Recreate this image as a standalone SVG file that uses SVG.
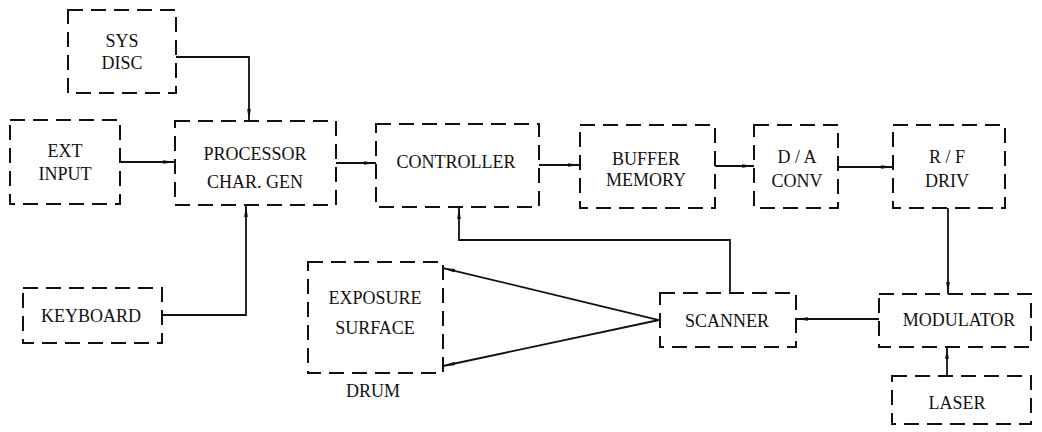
<svg xmlns="http://www.w3.org/2000/svg" width="1042" height="432" viewBox="0 0 1042 432">
<style>
.box{fill:none;stroke:#111;stroke-width:2;stroke-dasharray:15 8}
.ln{fill:none;stroke:#111;stroke-width:1.8}
text{font-family:'Liberation Serif','Times New Roman','DejaVu Serif',serif;font-size:18px;fill:#111;text-anchor:middle}
</style>
<defs>
<marker id="ah" viewBox="0 0 12 6" refX="12" refY="3" markerWidth="12" markerHeight="6" markerUnits="userSpaceOnUse" orient="auto">
<path d="M0,1.2 L12,3 L0,4.8 Z" fill="#111"/>
</marker>
</defs>
<rect width="1042" height="432" fill="#fff"/>
<g id="connectors">
<path class="ln" d="M176,57 H249 V121" marker-end="url(#ah)"/>
<path class="ln" d="M120,162 H175" marker-end="url(#ah)"/>
<path class="ln" d="M336,163 H376" marker-end="url(#ah)"/>
<path class="ln" d="M539,165 H580" marker-end="url(#ah)"/>
<path class="ln" d="M715,166 H754" marker-end="url(#ah)"/>
<path class="ln" d="M838,167 H893" marker-end="url(#ah)"/>
<path class="ln" d="M948,208 V294" marker-end="url(#ah)"/>
<path class="ln" d="M162,315 H246 V205" marker-end="url(#ah)"/>
<path class="ln" d="M730,293 V240 H459 V207" marker-end="url(#ah)"/>
<path class="ln" d="M659,320 L443,268" marker-end="url(#ah)"/>
<path class="ln" d="M659,320 L443,366" marker-end="url(#ah)"/>
<path class="ln" d="M879,319 H796" marker-end="url(#ah)"/>
<path class="ln" d="M947,376 V347" marker-end="url(#ah)"/>
</g>
<g id="sys-disc"><rect class="box" x="68" y="10" width="108" height="83"/><text x="122" y="47">SYS</text><text x="122" y="69">DISC</text></g>
<g id="ext-input"><rect class="box" x="10" y="120" width="110" height="84"/><text x="65" y="157">EXT</text><text x="65" y="180">INPUT</text></g>
<g id="processor"><rect class="box" x="175" y="121" width="161" height="84"/><text x="255" y="160">PROCESSOR</text><text x="255" y="188">CHAR. GEN</text></g>
<g id="controller"><rect class="box" x="376" y="124" width="163" height="83"/><text x="456" y="168">CONTROLLER</text></g>
<g id="buffer-memory"><rect class="box" x="580" y="125" width="135" height="83"/><text x="646" y="165">BUFFER</text><text x="646" y="186">MEMORY</text></g>
<g id="da-conv"><rect class="box" x="754" y="125" width="84" height="83"/><text x="797" y="163">D / A</text><text x="797" y="187">CONV</text></g>
<g id="rf-driv"><rect class="box" x="893" y="125" width="112" height="83"/><text x="947" y="163">R / F</text><text x="947" y="187">DRIV</text></g>
<g id="keyboard"><rect class="box" x="23" y="288" width="139" height="55"/><text x="91" y="322">KEYBOARD</text></g>
<g id="exposure-surface"><rect class="box" x="308" y="262" width="135" height="111"/><text x="375" y="304">EXPOSURE</text><text x="375" y="334">SURFACE</text><text x="373" y="397">DRUM</text></g>
<g id="scanner"><rect class="box" x="660" y="293" width="136" height="54"/><text x="727" y="327">SCANNER</text></g>
<g id="modulator"><rect class="box" x="879" y="294" width="152" height="53"/><text x="959" y="326">MODULATOR</text></g>
<g id="laser"><rect class="box" x="892" y="376" width="139" height="48"/><text x="957" y="409">LASER</text></g>
</svg>
